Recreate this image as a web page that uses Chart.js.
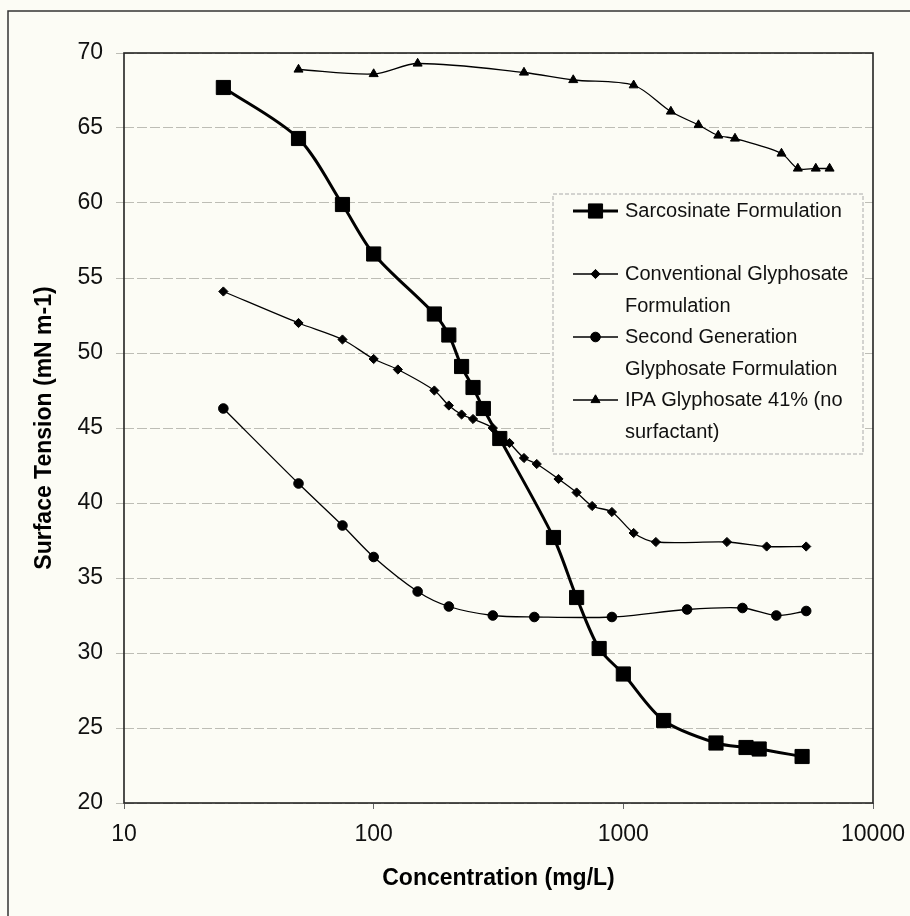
<!DOCTYPE html>
<html><head><meta charset="utf-8">
<script src="https://cdn.jsdelivr.net/npm/chart.js@4/dist/chart.umd.min.js"></script>
<style>html,body{margin:0;padding:0;background:#fcfcf5;} #wrap{width:910px;height:916px;position:relative}</style>
</head><body><div id="wrap"><canvas id="c" width="910" height="916"></canvas></div>
<script>
// ---- data ----
const sarcX = [25,50,75,100,175,200,225,250,275,320,525,650,800,1000,1450,2350,3100,3500,5200];
const sarcY = [67.7,64.3,59.9,56.6,52.6,51.2,49.1,47.7,46.3,44.3,37.7,33.7,30.3,28.6,25.5,24.0,23.7,23.6,23.1];
const convX = [25,50,75,100,125,175,200,225,250,300,350,400,450,550,650,750,900,1100,1350,2600,3750,5400];
const convY = [54.1,52.0,50.9,49.6,48.9,47.5,46.5,45.9,45.6,45.0,44.0,43.0,42.6,41.6,40.7,39.8,39.4,38.0,37.4,37.4,37.1,37.1];
const secX = [25,50,75,100,150,200,300,440,900,1800,3000,4100,5400];
const secY = [46.3,41.3,38.5,36.4,34.1,33.1,32.5,32.4,32.4,32.9,33.0,32.5,32.8];
const ipaX = [50,100,150,400,630,1100,1550,2000,2400,2800,4300,5000,5900,6700];
const ipaY = [68.9,68.6,69.3,68.7,68.2,67.85,66.1,65.2,64.5,64.3,63.3,62.3,62.3,62.3];
const seriesLabels = [
  ["Sarcosinate Formulation"],
  ["Conventional Glyphosate","Formulation"],
  ["Second Generation","Glyphosate Formulation"],
  ["IPA Glyphosate 41% (no","surfactant)"]
];
const xTicks = [10,100,1000,10000];
const yTicks = [20,25,30,35,40,45,50,55,60,65,70];
const xTitle = "Concentration (mg/L)";
const yTitle = "Surface Tension (mN m-1)";

const pts = (xs, ys) => xs.map((x,i)=>({x:x, y:ys[i]}));
const FONT = "'Liberation Sans', Arial, sans-serif";
const BG = '#fcfcf5';

const bgPlugin = {
  id:'bg',
  beforeDraw(chart){
    const ctx = chart.ctx;
    ctx.save();
    ctx.fillStyle = BG;
    ctx.fillRect(0,0,chart.width,chart.height);
    ctx.strokeStyle = '#333';
    ctx.lineWidth = 1.5;
    ctx.beginPath();
    ctx.moveTo(8, chart.height);
    ctx.lineTo(8, 11);
    ctx.lineTo(chart.width, 11);
    ctx.stroke();
    ctx.restore();
  },
  beforeDatasetsDraw(chart){
    const a = chart.chartArea, ctx = chart.ctx;
    ctx.save();
    ctx.strokeStyle = '#222';
    ctx.lineWidth = 1.6;
    ctx.strokeRect(a.left, a.top, a.right - a.left, a.bottom - a.top);
    ctx.restore();
  }
};

const legendPlugin = {
  id:'boxLegend',
  afterDatasetsDraw(chart, args, opts){
    const ctx = chart.ctx;
    const {left, top, width, height, itemGap, lineGap, lineX1, lineX2, textX, firstY} = opts;
    ctx.save();
    ctx.fillStyle = BG;
    ctx.fillRect(left, top, width, height);
    ctx.strokeStyle = '#aaa';
    ctx.lineWidth = 1;
    ctx.setLineDash([4,2]);
    ctx.strokeRect(left, top, width, height);
    ctx.setLineDash([]);
    chart.data.datasets.forEach((ds, i) => {
      const y = firstY + i * itemGap;
      ctx.strokeStyle = ds.borderColor;
      ctx.lineWidth = ds.borderWidth;
      ctx.beginPath();
      ctx.moveTo(lineX1, y);
      ctx.lineTo(lineX2, y);
      ctx.stroke();
      ctx.fillStyle = ds.pointBackgroundColor;
      ctx.strokeStyle = ds.pointBorderColor;
      ctx.lineWidth = ds.pointBorderWidth;
      Chart.helpers.drawPoint(ctx, {pointStyle: ds.pointStyle, radius: ds.pointRadius, rotation: 0, borderWidth: ds.pointBorderWidth}, (lineX1+lineX2)/2, y);
      ctx.fillStyle = '#111';
      ctx.font = '20px ' + FONT;
      ctx.textBaseline = 'middle';
      ctx.textAlign = 'left';
      ds.label.forEach((t, k) => ctx.fillText(t, textX, y + k * lineGap));
    });
    ctx.restore();
  }
};

const mkDs = (label, data, style, radius, lw) => ({
  label, data, borderColor:'#000', backgroundColor:'#000', borderWidth: lw,
  pointStyle: style, pointRadius: radius, pointHoverRadius: radius,
  pointBackgroundColor:'#000', pointBorderColor:'#000', pointBorderWidth:1,
  tension: 0.3, fill:false, showLine:true
});

new Chart(document.getElementById('c'), {
  type:'scatter',
  data:{ datasets:[
    mkDs(seriesLabels[0], pts(sarcX, sarcY), 'rect', 10, 3),
    mkDs(seriesLabels[1], pts(convX, convY), 'rectRot', 4.6, 1.3),
    mkDs(seriesLabels[2], pts(secX, secY), 'circle', 4.8, 1.3),
    mkDs(seriesLabels[3], pts(ipaX, ipaY), 'triangle', 5.2, 1.3)
  ]},
  options:{
    responsive:false, animation:false, devicePixelRatio:1,
    layout:{ padding:{ left:0, top:53, right:37, bottom:0 } },
    plugins:{
      legend:{display:false}, tooltip:{enabled:false},
      boxLegend:{ left:553, top:194, width:310, height:260, itemGap:63, lineGap:32,
                  lineX1:573, lineX2:618, textX:625, firstY:211 }
    },
    scales:{
      x:{
        type:'logarithmic', min:10, max:10000,
        afterBuildTicks:(s)=>{ s.ticks = xTicks.map(v=>({value:v})); },
        afterFit:(s)=>{ s.height = 113; s.paddingLeft = 0; s.paddingRight = 0; },
        grid:{ display:true, drawOnChartArea:false, drawTicks:true, tickLength:6, color:'#666', lineWidth:1 },
        border:{ display:false },
        ticks:{ color:'#111', font:{family:FONT, size:23}, padding:12, maxRotation:0, autoSkip:false,
                callback:(v)=>String(v) },
        title:{ display:true, text:xTitle, color:'#000', font:{family:FONT, size:23, weight:'bold'}, padding:{top:0,bottom:24} }
      },
      y:{
        type:'linear', min:20, max:70,
        afterBuildTicks:(s)=>{ s.ticks = yTicks.map(v=>({value:v})); },
        afterFit:(s)=>{ s.width = 124; s.paddingTop = 0; s.paddingBottom = 0; },
        grid:{ display:true, drawTicks:true, tickLength:8, color:'#bdbdb5', lineWidth:1 },
        border:{ display:false, dash:[10,3] },
        ticks:{ color:'#111', font:{family:FONT, size:23}, padding:13 },
        title:{ display:true, text:yTitle, color:'#000', font:{family:FONT, size:23, weight:'bold'}, padding:{top:31,bottom:0} }
      }
    }
  },
  plugins:[bgPlugin, legendPlugin]
});
</script>
</body></html>
